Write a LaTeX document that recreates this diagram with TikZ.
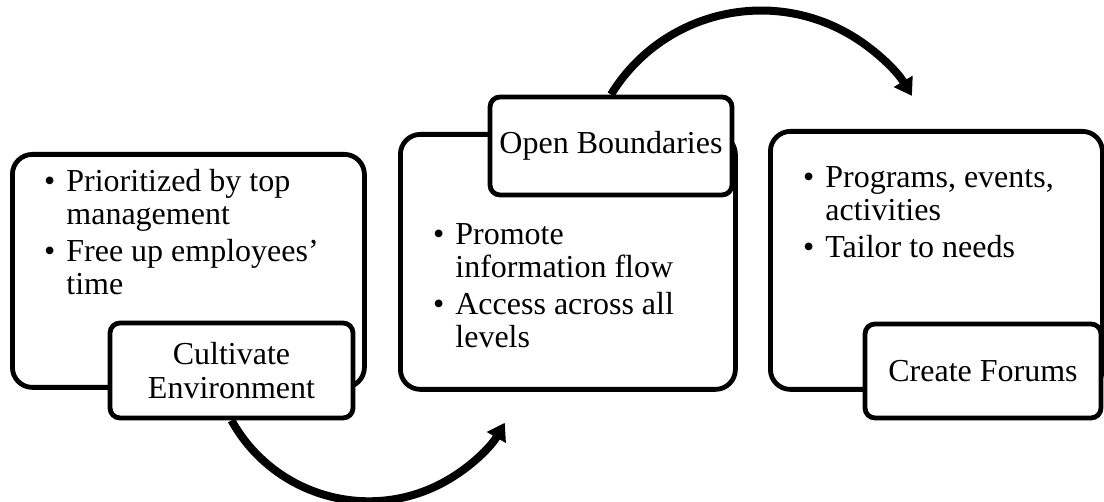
\documentclass[tikz,border=0pt]{standalone}
\usepackage{fontspec}
\setmainfont{Liberation Serif}
\usetikzlibrary{arrows.meta,positioning}

\newcommand{\pts}{\fontsize{32}{32.5}\selectfont}

\begin{document}
\begin{tikzpicture}[x=1pt, y=1pt, >={Triangle[length=17pt,width=21pt]}, font=\pts]
        \tikzstyle{bigbox}=[draw=black, line width=4.8pt, rounded corners=20pt, inner sep=0pt]
        \tikzstyle{tagbox}=[draw=black, fill=white, line width=4.8pt, rounded corners=10pt, align=center, inner sep=0pt]
        \tikzstyle{bullets}=[inner sep=0pt, anchor=north west]
        \tikzstyle{flow}=[->, line width=8pt]
        \useasboundingbox (0,0) rectangle (1104,502);
        % big boxes
        \node[bigbox, minimum width=352pt, minimum height=233pt, anchor=north west] (env)   at (10,350)  {};
        \node[bigbox, minimum width=335pt, minimum height=255pt, anchor=north west] (open)  at (398,370) {};
        \node[bigbox, minimum width=332pt, minimum height=258pt, anchor=north west] (forum) at (768,373) {};
        % bullet texts
        \node[bullets, below right=17pt and 34pt of env.north west] (env_txt) {%
            \begin{tabular}{@{}l@{\hspace{11pt}}l@{}}
            \textbullet & Prioritized by top\\
                        & management\\[5pt]
            \textbullet & Free up employees'\\
                        & time
            \end{tabular}};
        \node[bullets, below right=90pt and 35pt of open.north west] (open_txt) {%
            \begin{tabular}{@{}l@{\hspace{11pt}}l@{}}
            \textbullet & Promote\\
                        & information flow\\[5pt]
            \textbullet & Access across all\\
                        & levels
            \end{tabular}};
        \node[bullets, below right=36pt and 35pt of forum.north west] (forum_txt) {%
            \begin{tabular}{@{}l@{\hspace{11pt}}l@{}}
            \textbullet & Programs, events,\\
                        & activities\\[5pt]
            \textbullet & Tailor to needs
            \end{tabular}};
        % tags
        \node[tagbox, minimum width=243pt, minimum height=95pt] (env_tag)   at (231.5,131.5) {Cultivate\\[2pt]Environment};
        \node[tagbox, minimum width=242pt, minimum height=98pt] (open_tag)  at (611,356)     {Open Boundaries};
        \node[tagbox, minimum width=236pt, minimum height=94pt] (forum_tag) at (983,131)     {Create Forums};
        % arrows
        \draw[flow] (env_tag.south)  arc[start angle=209, end angle=330, radius=157pt];
        \draw[flow] (open_tag.north) arc[start angle=148.5, end angle=31, radius=176pt];
\end{tikzpicture}
\end{document}
